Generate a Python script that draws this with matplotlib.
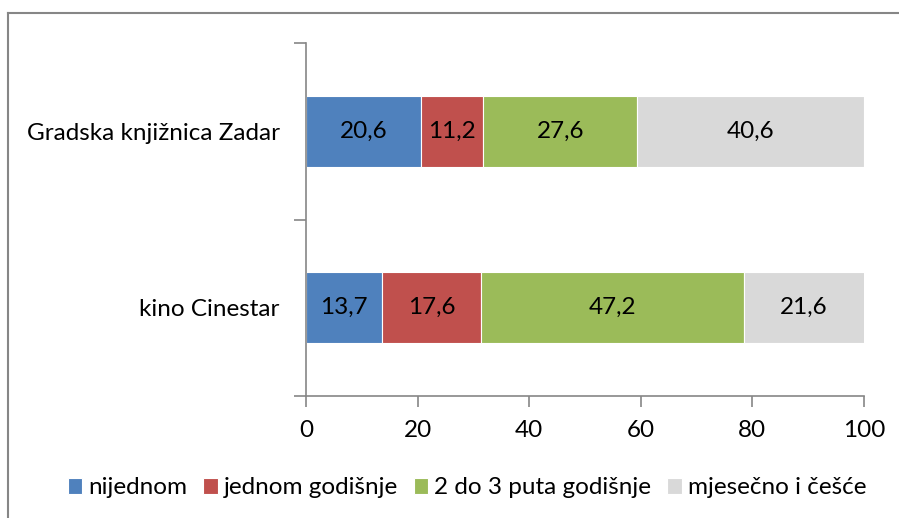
import matplotlib.pyplot as plt
from matplotlib.lines import Line2D

plt.rcParams['font.family'] = ['Lato', 'DejaVu Sans']

categories = ["kino Cinestar", "Gradska knjižnica Zadar"]
series_names = ["nijednom", "jednom godišnje", "2 do 3 puta godišnje", "mjesečno i češće"]
values = [
    [13.7, 20.6],
    [17.6, 11.2],
    [47.2, 27.6],
    [21.6, 40.6],
]
labels = [
    ["13,7", "20,6"],
    ["17,6", "11,2"],
    ["47,2", "27,6"],
    ["21,6", "40,6"],
]
colors = ["#4F81BD", "#C0504D", "#9BBB59", "#D9D9D9"]

FS = 17.5

fig = plt.figure(figsize=(8.99, 5.18), dpi=100)
ax = fig.add_axes([306 / 899, 1 - 396 / 518, 558 / 899, 353 / 518])

y = list(range(len(categories)))
left = [0] * len(categories)
for name, vals, labs, c in zip(series_names, values, labels, colors):
    bars = ax.barh(y, vals, left=left, height=0.4, color=c, edgecolor="white",
                   linewidth=0.8, label=name)
    ax.bar_label(bars, labels=labs, label_type="center", fontsize=FS, color="black")
    left = [l + v for l, v in zip(left, vals)]

ax.set_xlim(0, 100)
ax.set_ylim(-0.5, 1.5)
ax.set_xticks([0, 20, 40, 60, 80, 100])
ax.set_yticks([-0.5, 0.5, 1.5])
ax.set_yticks(y, minor=True)
ax.set_yticklabels([], minor=False)
ax.set_yticklabels(categories, minor=True)
ax.tick_params(axis="y", which="major", length=9, width=1.2, color="#868686")
ax.tick_params(axis="y", which="minor", length=0, pad=19, labelsize=FS)
ax.tick_params(axis="x", length=8, width=1.2, color="#868686", labelsize=FS, pad=9)

for s in ["top", "right"]:
    ax.spines[s].set_visible(False)
for s in ["left", "bottom"]:
    ax.spines[s].set_color("#868686")
    ax.spines[s].set_linewidth(1.2)

ax.legend(loc="center", bbox_to_anchor=(467 / 899, 1 - 488 / 518),
          bbox_transform=fig.transFigure, ncol=4, frameon=False, fontsize=FS,
          handlelength=0.6, handleheight=0.6, handletextpad=0.25, columnspacing=0.65,
          borderpad=0)

# outer chart border (top and left visible)
fig.add_artist(Line2D([8 / 899, 8 / 899], [0, 1 - 13 / 518], color="#868686", linewidth=1.5,
                      transform=fig.transFigure))
fig.add_artist(Line2D([8 / 899, 1], [1 - 13 / 518, 1 - 13 / 518], color="#868686", linewidth=1.5,
                      transform=fig.transFigure))

plt.savefig("out.png", dpi=100)
